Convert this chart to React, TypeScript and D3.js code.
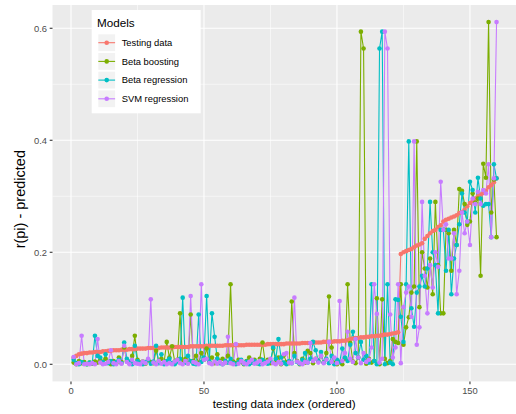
import * as d3 from 'd3';

// index 1..160, ordered by testing value
const testingData = [
  0.012, 0.015, 0.018, 0.019, 0.020, 0.020, 0.021, 0.021, 0.022, 0.022,
  0.022, 0.023, 0.023, 0.024, 0.024, 0.025, 0.025, 0.025, 0.026, 0.026,
  0.026, 0.027, 0.027, 0.027, 0.028, 0.028, 0.028, 0.028, 0.029, 0.029,
  0.029, 0.029, 0.029, 0.030, 0.030, 0.030, 0.030, 0.030, 0.031, 0.031,
  0.031, 0.031, 0.031, 0.031, 0.032, 0.032, 0.032, 0.032, 0.032, 0.032,
  0.033, 0.033, 0.033, 0.033, 0.033, 0.033, 0.033, 0.034, 0.034, 0.034,
  0.034, 0.034, 0.034, 0.034, 0.034, 0.035, 0.035, 0.035, 0.035, 0.035,
  0.035, 0.035, 0.035, 0.036, 0.036, 0.036, 0.036, 0.036, 0.036, 0.036,
  0.037, 0.037, 0.037, 0.037, 0.037, 0.037, 0.038, 0.038, 0.038, 0.038,
  0.039, 0.039, 0.039, 0.039, 0.040, 0.040, 0.040, 0.040, 0.041, 0.041,
  0.041, 0.042, 0.042, 0.043, 0.045, 0.046, 0.047, 0.047, 0.048, 0.048,
  0.049, 0.049, 0.050, 0.050, 0.051, 0.051, 0.052, 0.053, 0.053, 0.054,
  0.055, 0.056, 0.057, 0.197, 0.200, 0.202, 0.204, 0.206, 0.209, 0.212,
  0.214, 0.216, 0.224, 0.229, 0.234, 0.238, 0.240, 0.245, 0.248, 0.255,
  0.258, 0.260, 0.262, 0.264, 0.266, 0.270, 0.272, 0.276, 0.282, 0.288,
  0.292, 0.296, 0.300, 0.303, 0.306, 0.310, 0.316, 0.320, 0.325, 0.332,
];

const betaBoosting = [
  0.003, 0.000, 0.006, 0.002, 0.004, 0.000, 0.003, 0.001, 0.005, 0.003,
  0.008, 0.002, 0.010, 0.004, 0.000, 0.006, 0.002, 0.012, 0.004, 0.030,
  0.006, 0.002, 0.015, 0.051, 0.008, 0.003, 0.005, 0.001, 0.007, 0.004,
  0.002, 0.024, 0.006, 0.010, 0.003, 0.040, 0.012, 0.032, 0.005, 0.008,
  0.091, 0.004, 0.010, 0.002, 0.089, 0.006, 0.015, 0.003, 0.020, 0.008,
  0.028, 0.004, 0.012, 0.002, 0.018, 0.006, 0.010, 0.003, 0.015, 0.143,
  0.005, 0.002, 0.008, 0.004, 0.000, 0.006, 0.012, 0.003, 0.008, 0.002,
  0.010, 0.039, 0.004, 0.008, 0.002, 0.028, 0.006, 0.012, 0.000, 0.016,
  0.004, 0.002, 0.112, 0.020, 0.006, 0.000, 0.010, 0.003, 0.024, 0.020,
  0.002, 0.010, 0.006, 0.015, 0.003, 0.020, 0.121, 0.030, 0.002, 0.000,
  0.004, 0.000, 0.010, 0.143, 0.038, 0.005, 0.002, 0.012, 0.594, 0.564,
  0.001, 0.010, 0.003, 0.006, 0.118, 0.000, 0.116, 0.010, 0.002, 0.006,
  0.045, 0.040, 0.038, 0.143, 0.035, 0.066, 0.084, 0.128, 0.139, 0.398,
  0.102, 0.200, 0.171, 0.137, 0.189, 0.125, 0.290, 0.177, 0.091, 0.091,
  0.240, 0.234, 0.167, 0.240, 0.213, 0.313, 0.310, 0.286, 0.249, 0.255,
  0.305, 0.289, 0.296, 0.158, 0.358, 0.333, 0.611, 0.271, 0.330, 0.227,
];

const betaRegression = [
  0.008, 0.002, 0.000, 0.004, 0.001, 0.000, 0.003, 0.002, 0.051, 0.015,
  0.012, 0.004, 0.018, 0.002, 0.006, 0.000, 0.004, 0.008, 0.002, 0.039,
  0.010, 0.005, 0.000, 0.033, 0.006, 0.002, 0.000, 0.004, 0.008, 0.001,
  0.005, 0.033, 0.002, 0.018, 0.000, 0.006, 0.010, 0.002, 0.000, 0.004,
  0.010, 0.119, 0.003, 0.015, 0.006, 0.001, 0.000, 0.089, 0.004, 0.012,
  0.122, 0.006, 0.091, 0.049, 0.010, 0.002, 0.000, 0.006, 0.003, 0.010,
  0.002, 0.000, 0.004, 0.008, 0.001, 0.005, 0.000, 0.003, 0.006, 0.002,
  0.000, 0.008, 0.004, 0.001, 0.006, 0.030, 0.010, 0.045, 0.012, 0.003,
  0.000, 0.006, 0.002, 0.015, 0.004, 0.001, 0.008, 0.020, 0.003, 0.010,
  0.040, 0.025, 0.006, 0.022, 0.003, 0.010, 0.002, 0.015, 0.000, 0.008,
  0.004, 0.028, 0.012, 0.006, 0.035, 0.058, 0.020, 0.012, 0.040, 0.008,
  0.015, 0.003, 0.143, 0.006, 0.000, 0.564, 0.594, 0.000, 0.143, 0.003,
  0.000, 0.116, 0.115, 0.085, 0.040, 0.143, 0.398, 0.100, 0.067, 0.128,
  0.139, 0.158, 0.139, 0.171, 0.290, 0.200, 0.177, 0.091, 0.240, 0.240,
  0.167, 0.240, 0.125, 0.189, 0.213, 0.250, 0.305, 0.271, 0.255, 0.326,
  0.311, 0.271, 0.333, 0.296, 0.283, 0.286, 0.286, 0.227, 0.357, 0.332,
];

const svmRegression = [
  0.013, 0.000, 0.002, 0.051, 0.000, 0.001, 0.000, 0.002, 0.000, 0.045,
  0.003, 0.000, 0.001, 0.004, 0.025, 0.002, 0.000, 0.006, 0.001, 0.033,
  0.004, 0.000, 0.008, 0.002, 0.001, 0.000, 0.005, 0.002, 0.010, 0.116,
  0.003, 0.000, 0.006, 0.001, 0.004, 0.000, 0.002, 0.000, 0.005, 0.008,
  0.002, 0.000, 0.006, 0.001, 0.122, 0.004, 0.002, 0.000, 0.143, 0.008,
  0.010, 0.002, 0.000, 0.005, 0.001, 0.004, 0.000, 0.003, 0.049, 0.002,
  0.000, 0.036, 0.001, 0.006, 0.002, 0.000, 0.004, 0.008, 0.001, 0.003,
  0.006, 0.000, 0.002, 0.005, 0.010, 0.002, 0.000, 0.004, 0.001, 0.018,
  0.020, 0.003, 0.002, 0.119, 0.005, 0.002, 0.000, 0.004, 0.003, 0.038,
  0.006, 0.010, 0.003, 0.015, 0.002, 0.008, 0.040, 0.004, 0.012, 0.002,
  0.113, 0.006, 0.020, 0.058, 0.010, 0.004, 0.045, 0.012, 0.002, 0.020,
  0.004, 0.008, 0.030, 0.143, 0.090, 0.003, 0.010, 0.594, 0.564, 0.089,
  0.012, 0.030, 0.143, 0.002, 0.102, 0.128, 0.139, 0.085, 0.398, 0.035,
  0.066, 0.290, 0.158, 0.091, 0.177, 0.137, 0.200, 0.174, 0.326, 0.240,
  0.250, 0.189, 0.189, 0.234, 0.125, 0.167, 0.271, 0.234, 0.255, 0.213,
  0.296, 0.286, 0.308, 0.286, 0.311, 0.305, 0.357, 0.227, 0.332, 0.611,
];

const seriesNames = ['Testing data', 'Beta boosting', 'Beta regression', 'SVM regression'];
const seriesColors = ['#F8766D', '#7CAE00', '#00BFC4', '#C77CFF'];
const seriesValues = [testingData, betaBoosting, betaRegression, svmRegression];

const xTicks = [0, 50, 100, 150];
const xMinorTicks = [25, 75, 125];
const yTicks = [0, 0.2, 0.4, 0.6];
const yMinorTicks = [0.1, 0.3, 0.5];

const W = 516;
const H = 414;
const panel = { left: 52.5, right: 517.7, top: 5, bottom: 381.4 };
const font = '"Liberation Sans", Arial, sans-serif';

export default function App() {
  const n = testingData.length;
  const allVals = seriesValues.flat();
  const yMax = d3.max(allVals) as number;
  const yMin = d3.min(allVals) as number;
  const xPad = (n - 1) * 0.05;
  const yPad = (yMax - yMin) * 0.05;

  const x = d3.scaleLinear().domain([1 - xPad, n + xPad]).range([panel.left, panel.right]);
  const y = d3.scaleLinear().domain([yMin - yPad, yMax + yPad]).range([panel.bottom, panel.top]);

  const line = d3.line<number>()
    .x((_, i) => x(i + 1))
    .y((d) => y(d));

  const midY = (panel.top + panel.bottom) / 2;
  const midX = (panel.left + Math.min(panel.right, W)) / 2;

  // legend
  const lg = { x: 91.7, y: 10, w: 109, h: 103.3 };
  const rowY = [42.7, 61.4, 80.1, 98.8];

  return (
    <svg width={W} height={H} style={{ position: 'absolute', left: 0, top: 0, background: '#fff' }}>
      <defs>
        <clipPath id="panel-clip">
          <rect x={panel.left} y={panel.top} width={panel.right - panel.left} height={panel.bottom - panel.top} />
        </clipPath>
      </defs>
      <rect x={panel.left} y={panel.top} width={panel.right - panel.left} height={panel.bottom - panel.top} fill="#EBEBEB" />

      {/* grid */}
      {xMinorTicks.map((t) => (
        <line key={'xm' + t} x1={x(t)} x2={x(t)} y1={panel.top} y2={panel.bottom} stroke="#fff" strokeWidth={0.55} />
      ))}
      {yMinorTicks.map((t) => (
        <line key={'ym' + t} x1={panel.left} x2={panel.right} y1={y(t)} y2={y(t)} stroke="#fff" strokeWidth={0.55} />
      ))}
      {xTicks.map((t) => (
        <line key={'xg' + t} x1={x(t)} x2={x(t)} y1={panel.top} y2={panel.bottom} stroke="#fff" strokeWidth={1.1} />
      ))}
      {yTicks.map((t) => (
        <line key={'yg' + t} x1={panel.left} x2={panel.right} y1={y(t)} y2={y(t)} stroke="#fff" strokeWidth={1.1} />
      ))}

      <g clipPath="url(#panel-clip)">
        {seriesValues.map((vals, s) => (
          <path key={'l' + s} d={line(vals) || ''} fill="none" stroke={seriesColors[s]} strokeWidth={1.1} />
        ))}
        {seriesValues.map((vals, s) => (
          <g key={'p' + s} fill={seriesColors[s]}>
            {vals.map((v, i) => (
              <circle key={i} cx={x(i + 1)} cy={y(v)} r={2.3} />
            ))}
          </g>
        ))}
      </g>

      {/* axes */}
      {yTicks.map((t) => (
        <g key={'yt' + t}>
          <line x1={panel.left - 2.8} x2={panel.left} y1={y(t)} y2={y(t)} stroke="#333" strokeWidth={1.1} />
          <text x={panel.left - 5.5} y={y(t)} dy="0.35em" textAnchor="end" fontFamily={font} fontSize={9.4} fill="#4D4D4D">
            {d3.format('.1f')(t)}
          </text>
        </g>
      ))}
      {xTicks.map((t) => (
        <g key={'xt' + t}>
          <line x1={x(t)} x2={x(t)} y1={panel.bottom} y2={panel.bottom + 2.8} stroke="#333" strokeWidth={1.1} />
          <text x={x(t)} y={panel.bottom + 12.5} textAnchor="middle" fontFamily={font} fontSize={9.4} fill="#4D4D4D">
            {t}
          </text>
        </g>
      ))}

      <text x={midX} y={408} textAnchor="middle" fontFamily={font} fontSize={11.7} fill="#000">
        testing data index (ordered)
      </text>
      <text transform={`translate(25,${midY + 6}) rotate(-90)`} textAnchor="middle" fontFamily={font} fontSize={14.5} fill="#000">
        r(pi) - predicted
      </text>

      {/* legend */}
      <rect x={lg.x} y={lg.y} width={lg.w} height={lg.h} fill="#fff" />
      <text x={97} y={26.5} fontFamily={font} fontSize={11.7} fill="#000">Models</text>
      {seriesNames.map((name, i) => (
        <g key={name}>
          <rect x={98.3} y={rowY[i] - 8.4} width={16.8} height={16.8} fill="#F2F2F2" />
          <line x1={98.3} x2={115.1} y1={rowY[i]} y2={rowY[i]} stroke={seriesColors[i]} strokeWidth={1.1} />
          <circle cx={106.7} cy={rowY[i]} r={2.3} fill={seriesColors[i]} />
          <text x={121.7} y={rowY[i]} dy="0.35em" fontFamily={font} fontSize={9.4} fill="#000">
            {name}
          </text>
        </g>
      ))}
    </svg>
  );
}
